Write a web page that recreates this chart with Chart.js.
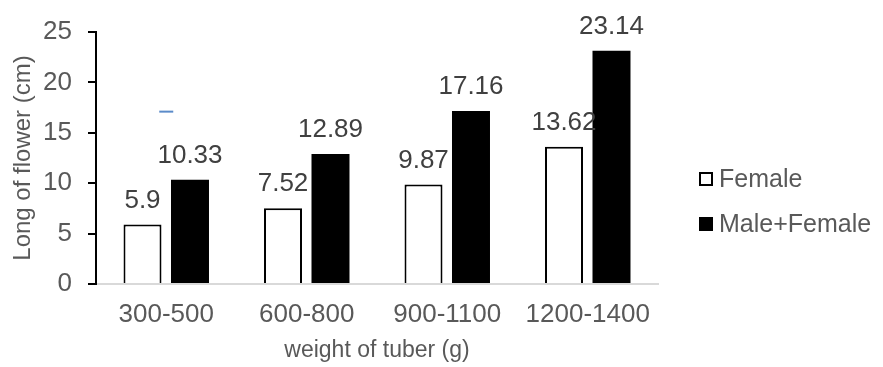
<!DOCTYPE html>
<html>
<head>
<meta charset="utf-8">
<script src="https://cdn.jsdelivr.net/npm/chart.js@4/dist/chart.umd.min.js"></script>
<style>
  html, body { margin: 0; padding: 0; background: #fff; }
  #wrap { position: relative; width: 883px; height: 367px; }
  #legend { position: absolute; left: 699px; top: 156px; font-family: "Liberation Sans", Arial, sans-serif; font-size: 25px; color: #595959; }
  #legend .item { display: flex; align-items: center; height: 45px; white-space: nowrap; }
  #legend .sw { width: 14px; height: 14px; border: 2px solid #000; margin-right: 6px; box-sizing: border-box; }
</style>
</head>
<body>
<div id="wrap">
  <canvas id="c" width="883" height="367"></canvas>
  <div id="legend"></div>
</div>
<script>
const categories = ["300-500", "600-800", "900-1100", "1200-1400"];
const female = [5.9, 7.52, 9.87, 13.62];
const maleFemale = [10.33, 12.89, 17.16, 23.14];
const strayMark = [17.1, null, null, null];
const yTicks = [0, 5, 10, 15, 20, 25];
const seriesNames = ["Female", "Male+Female"];

const FONT = "'Liberation Sans', Arial, sans-serif";

// value labels above each bar
const valueLabels = {
  id: "valueLabels",
  afterDatasetsDraw(chart) {
    const ctx = chart.ctx;
    ctx.save();
    ctx.font = "26px " + FONT;
    ctx.fillStyle = "#404040";
    ctx.textAlign = "center";
    ctx.textBaseline = "middle";
    [0, 1].forEach(di => {
      const meta = chart.getDatasetMeta(di);
      meta.data.forEach((bar, i) => {
        const v = chart.data.datasets[di].data[i];
        ctx.fillText(String(v), bar.x, bar.y - 24);
      });
    });
    ctx.restore();
  }
};

new Chart(document.getElementById("c"), {
  data: {
    labels: categories,
    datasets: [
      {
        type: "bar", label: seriesNames[0], data: female,
        backgroundColor: "#ffffff", borderColor: "#000000", borderWidth: 2,
        categoryPercentage: 0.676, barPercentage: 0.8, order: 2
      },
      {
        type: "bar", label: seriesNames[1], data: maleFemale,
        backgroundColor: "#000000", borderColor: "#000000", borderWidth: 0,
        categoryPercentage: 0.676, barPercentage: 0.8, order: 2
      },
      {
        type: "line", label: "", data: strayMark, showLine: false,
        pointStyle: "line", pointRadius: 7, borderColor: "#5b8bc9",
        pointBorderWidth: 2, order: 1
      }
    ]
  },
  options: {
    responsive: false,
    animation: false,
    layout: { padding: { left: 0, top: 32, right: 225, bottom: 0 } },
    plugins: { legend: { display: false }, tooltip: { enabled: false } },
    scales: {
      x: {
        grid: { display: false },
        border: { color: "#d9d9d9", width: 2 },
        ticks: { color: "#595959", font: { size: 26, family: FONT }, padding: 7 },
        title: { display: true, text: "weight of tuber (g)", color: "#595959", font: { size: 23, family: FONT }, padding: { top: 2, bottom: 3 } },
        afterFit(s) { s.height = 83; }
      },
      y: {
        min: 0, max: 25,
        afterBuildTicks(s) { s.ticks = yTicks.map(v => ({ value: v })); },
        grid: { drawOnChartArea: false, color: "#000", tickLength: 8, lineWidth: 2 },
        border: { color: "#000", width: 2 },
        ticks: { color: "#595959", font: { size: 26, family: FONT }, padding: 16 },
        title: { display: true, text: "Long of flower (cm)", color: "#595959", font: { size: 24, family: FONT }, padding: { top: 9, bottom: 0 } },
        afterFit(s) { s.width = 96; }
      }
    }
  },
  plugins: [valueLabels]
});

// legend beside the plot
const legendEl = document.getElementById("legend");
[["#ffffff", seriesNames[0]], ["#000000", seriesNames[1]]].forEach(([fill, name]) => {
  const item = document.createElement("div");
  item.className = "item";
  const sw = document.createElement("span");
  sw.className = "sw";
  sw.style.background = fill;
  const tx = document.createElement("span");
  tx.textContent = name;
  item.appendChild(sw);
  item.appendChild(tx);
  legendEl.appendChild(item);
});
</script>
</body>
</html>
